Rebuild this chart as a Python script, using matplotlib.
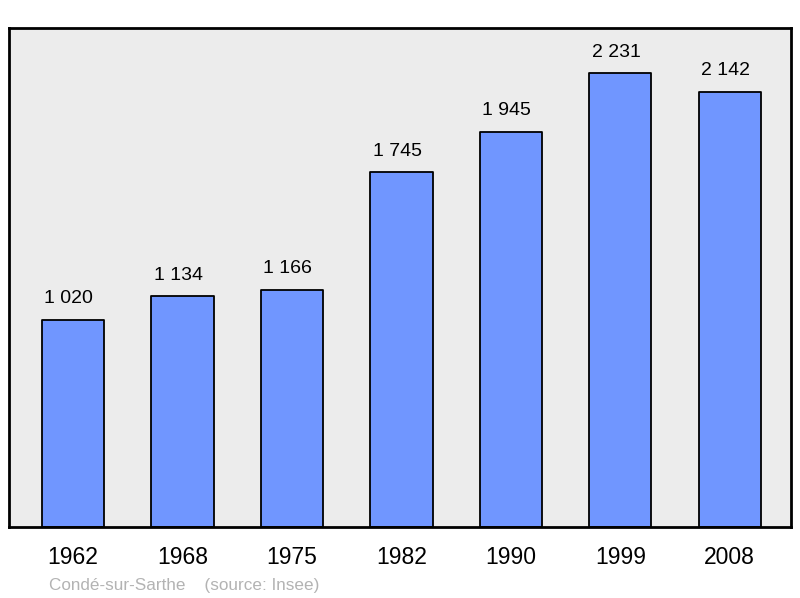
import matplotlib.pyplot as plt

plt.rcParams['font.family'] = ['Liberation Sans', 'DejaVu Sans']

years = ['1962', '1968', '1975', '1982', '1990', '1999', '2008']
population = [1020, 1134, 1166, 1745, 1945, 2231, 2142]
labels = ['1 020', '1 134', '1 166', '1 745', '1 945', '2 231', '2 142']

fig = plt.figure(figsize=(8, 5.98), dpi=100)
ax = fig.add_axes([0.01125, 0.1187, 0.9775, 0.8344])
ax.set_facecolor('#ececec')

x = list(range(len(years)))
bars = ax.bar(x, population, width=0.57, color='#7096ff', edgecolor='black',
              linewidth=1.3, joinstyle='round')

for xi, val, lab in zip(x, population, labels):
    ax.annotate(lab, (xi, val), xytext=(-3, 9), textcoords='offset points',
                ha='center', va='bottom', fontsize=14)

ax.set_xlim(-0.585, 6.56)
ax.set_ylim(0, max(population) * 1.1)
ax.set_yticks([])
ax.set_xticks(x)
ax.set_xticklabels(years, fontsize=16.5)
ax.tick_params(axis='x', length=0, pad=14)
for s in ax.spines.values():
    s.set_linewidth(2)

fig.text(0.061, 0.0134, 'Condé-sur-Sarthe    (source: Insee)', fontsize=12.3,
         color='#b3b3b3', ha='left', va='baseline')

fig.savefig('out.png', dpi=100)
